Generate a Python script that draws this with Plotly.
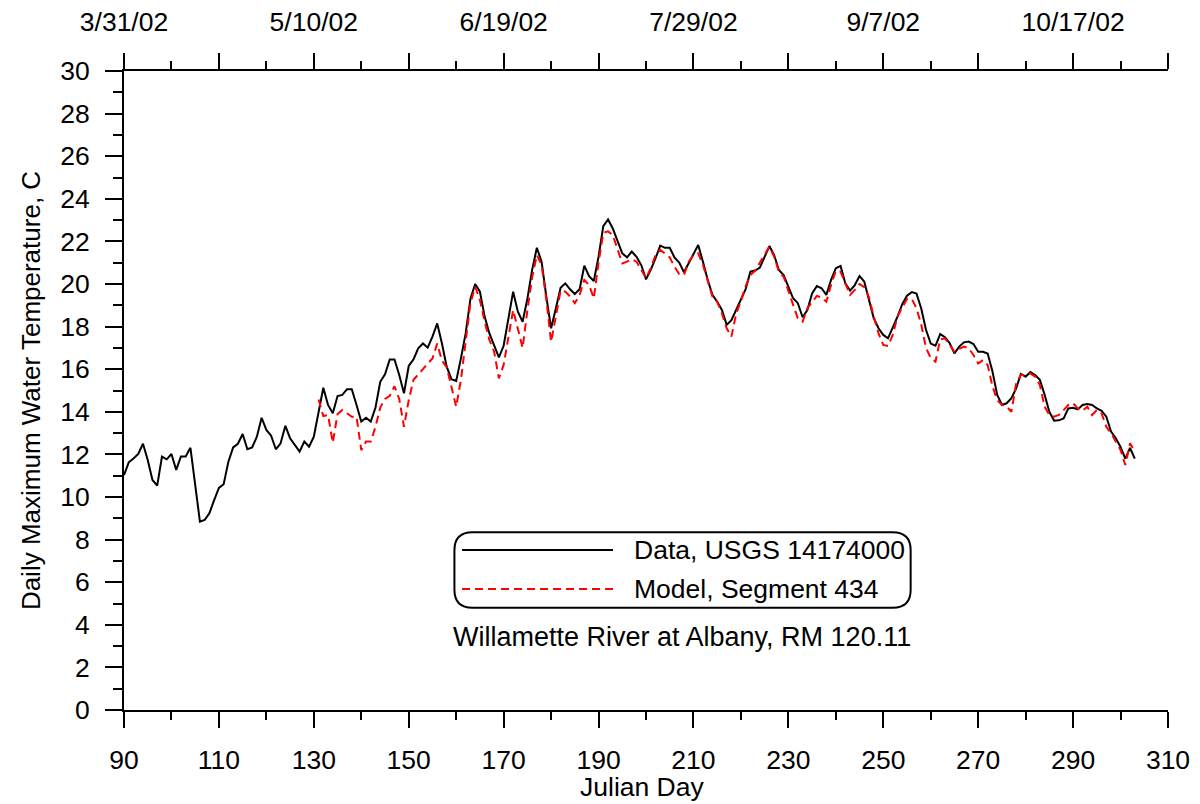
import plotly.graph_objects as go

# ---------------- data ----------------
data_start_day = 90
data_temp = [
    11.03, 11.63, 11.81, 12.02, 12.5, 11.74, 10.8, 10.53, 11.9, 11.77,
    12.02, 11.27, 11.9, 11.9, 12.31, 10.64, 8.84, 8.92, 9.24, 9.85,
    10.43, 10.6, 11.66, 12.33, 12.5, 12.96, 12.24, 12.33, 12.83, 13.72,
    13.15, 12.88, 12.24, 12.52, 13.34, 12.76, 12.47, 12.13, 12.6, 12.36,
    12.83, 14.0, 15.13, 14.32, 13.93, 14.74, 14.79, 15.06, 15.06, 14.32,
    13.54, 13.72, 13.54, 14.2, 15.41, 15.76, 16.46, 16.46, 15.73, 14.87,
    16.15, 16.46, 16.98, 17.21, 17.01, 17.53, 18.15, 17.21, 16.12, 15.53,
    15.45, 16.51, 17.68, 19.3, 20.0, 19.64, 18.47, 17.68, 17.14, 16.56,
    17.1, 18.47, 19.64, 18.7, 18.23, 19.3, 20.65, 21.7, 21.05, 19.4,
    17.92, 18.85, 19.82, 20.03, 19.75, 19.53, 19.75, 20.86, 20.37, 20.14,
    21.28, 22.72, 23.03, 22.61, 22.07, 21.44, 21.25, 21.52, 21.28, 20.89,
    20.22, 20.66, 21.2, 21.8, 21.7, 21.7, 21.25, 21.01, 20.55, 20.97,
    21.44, 21.83, 21.05, 20.2, 19.49, 19.17, 18.78, 18.08, 18.3, 18.78,
    19.25, 19.76, 20.58, 20.63, 20.77, 21.28, 21.78, 21.36, 20.66, 20.42,
    19.88, 19.33, 19.1, 18.44, 18.78, 19.56, 19.9, 19.8, 19.49, 20.19,
    20.74, 20.85, 20.03, 19.69, 19.95, 20.37, 20.11, 19.25, 18.39, 17.92,
    17.61, 17.45, 17.92, 18.47, 19.05, 19.45, 19.62, 19.55, 18.85, 17.85,
    17.2, 17.1, 17.65, 17.5, 17.22, 16.74, 17.06, 17.26, 17.3, 17.18,
    16.82, 16.82, 16.74, 15.9, 14.8, 14.32, 14.4, 14.64, 15.1, 15.78,
    15.65, 15.87, 15.73, 15.5, 14.8, 14.0, 13.58, 13.6, 13.69, 14.16,
    14.19, 14.11, 14.32, 14.36, 14.32, 14.16, 14.05, 13.77, 13.07, 12.76,
    12.35, 11.8, 12.3, 11.8,
]
data_days = list(range(data_start_day, data_start_day + len(data_temp)))

model_start_day = 131
model_temp = [
    14.58, 13.8, 13.85, 12.55, 13.9, 14.08, 13.93, 13.77, 13.77, 12.2,
    12.6, 12.6, 13.3, 14.2, 14.6, 14.75, 15.2, 14.6, 13.3, 14.55,
    15.5, 15.73, 16.0, 16.27, 16.5, 17.2, 16.4, 16.1, 15.18, 14.24,
    15.5, 17.2, 19.1, 19.87, 19.25, 18.23, 17.37, 16.82, 15.57, 16.2,
    17.6, 18.78, 17.9, 17.0, 18.75, 20.3, 21.36, 20.9, 19.25, 17.29,
    18.47, 19.69, 19.64, 19.41, 19.1, 19.48, 20.19, 19.95, 19.33, 21.0,
    22.4, 22.47, 22.3, 21.67, 20.97, 21.05, 21.16, 21.05, 20.66, 20.27,
    20.74, 21.36, 21.6, 21.44, 21.25, 20.81, 20.47, 20.42, 21.05, 21.36,
    21.44, 20.9, 20.2, 19.41, 19.17, 18.62, 17.92, 17.53, 18.6, 19.2,
    19.9, 20.42, 20.63, 21.0, 21.36, 21.75, 21.28, 20.58, 20.34, 19.64,
    19.02, 18.39, 18.23, 18.86, 19.17, 19.44, 19.37, 19.17, 19.95, 20.62,
    20.58, 20.03, 19.49, 19.72, 20.0, 19.85, 19.37, 18.47, 17.68, 17.14,
    17.09, 17.61, 18.47, 18.9, 19.3, 19.3, 18.86, 18.1, 17.0, 16.53,
    16.35, 17.4, 17.45, 17.14, 16.82, 16.95, 17.06, 16.98, 16.67, 16.27,
    16.43, 16.2, 15.2, 14.55, 14.32, 14.24, 14.0, 15.33, 15.73, 15.73,
    15.8, 15.65, 15.26, 14.24, 13.85, 13.77, 13.85, 14.08, 14.32, 14.4,
    14.16, 14.05, 14.24, 13.85, 14.08, 13.93, 13.3, 12.99, 12.6, 12.21,
    11.5, 12.52, 12.13,
]
model_days = list(range(model_start_day, model_start_day + len(model_temp)))

x_ticks = [90, 110, 130, 150, 170, 190, 210, 230, 250, 270, 290, 310]
top_tick_vals = [90, 110, 130, 150, 170, 190, 210, 230, 250, 270, 290, 310]
top_tick_text = ["3/31/02", "", "5/10/02", "", "6/19/02", "", "7/29/02", "",
                 "9/7/02", "", "10/17/02", ""]
y_ticks = list(range(0, 31, 2))

x_title = "Julian Day"
y_title = "Daily Maximum Water Temperature, C"
legend_labels = ["Data, USGS 14174000", "Model, Segment 434"]
subtitle = "Willamette River at Albany, RM 120.11"

FONT = "Arial, Liberation Sans, sans-serif"
FS = 26.5

fig = go.Figure()
fig.add_trace(go.Scatter(x=data_days, y=data_temp, mode="lines",
                         line=dict(color="black", width=2),
                         name=legend_labels[0], showlegend=False))
fig.add_trace(go.Scatter(x=model_days, y=model_temp, mode="lines",
                         line=dict(color="#ff0000", width=2, dash="8px,5px"),
                         name=legend_labels[1], showlegend=False))
# dummy trace to anchor the top date axis
fig.add_trace(go.Scatter(x=[90, 310], y=[None, None], xaxis="x2", yaxis="y",
                         mode="lines", showlegend=False, hoverinfo="skip"))

axis_common = dict(showgrid=False, zeroline=False, showline=True,
                   linecolor="black", linewidth=2, ticks="outside",
                   tickcolor="black", tickwidth=2, automargin=False,
                   tickfont=dict(family=FONT, size=FS, color="black"))

fig.update_layout(
    width=1184, height=796,
    margin=dict(l=116, r=24, t=63, b=94, autoexpand=False),
    paper_bgcolor="white", plot_bgcolor="white",
    font=dict(family=FONT, size=FS, color="black"),
    xaxis=dict(range=[90, 310], tickvals=x_ticks, ticklen=16,
               ticklabelstandoff=9,
               minor=dict(ticks="outside", ticklen=8, tickwidth=2,
                          tickcolor="black", tick0=90, dtick=10),
               **axis_common),
    xaxis2=dict(range=[90, 310], overlaying="x", side="top", anchor="y",
                tickvals=top_tick_vals, ticktext=top_tick_text, ticklen=16,
                ticklabelstandoff=11,
                minor=dict(ticks="outside", ticklen=8, tickwidth=2,
                           tickcolor="black", tick0=90, dtick=10),
                **axis_common),
    yaxis=dict(range=[0, 30], tickvals=y_ticks, ticklen=17,
               ticklabelstandoff=10,
               minor=dict(ticks="outside", ticklen=9, tickwidth=2,
                          tickcolor="black", tick0=0, dtick=1),
               title=dict(text=y_title, standoff=12,
                          font=dict(family=FONT, size=26)),
               **axis_common),
    showlegend=False,
)

# x-axis title
fig.add_annotation(x=0.4957, y=-0.1205, xref="paper", yref="paper",
                   text=x_title, showarrow=False, xanchor="center",
                   yanchor="middle", font=dict(family=FONT, size=FS))

# ---- hand-drawn legend box (paper coordinates) ----
x0, x1, y0, y1 = 0.3165, 0.7535, 0.160, 0.278
rx, ry = 18 / 1044, 18 / 639
path = (f"M {x0+rx},{y0} L {x1-rx},{y0} Q {x1},{y0} {x1},{y0+ry} "
        f"L {x1},{y1-ry} Q {x1},{y1} {x1-rx},{y1} L {x0+rx},{y1} "
        f"Q {x0},{y1} {x0},{y1-ry} L {x0},{y0+ry} Q {x0},{y0} {x0+rx},{y0} Z")
fig.add_shape(type="path", path=path, xref="paper", yref="paper",
              line=dict(color="black", width=2), fillcolor="white", layer="above")
fig.add_shape(type="line", xref="paper", yref="paper",
              x0=0.3238, x1=0.4684, y0=0.2505, y1=0.2505,
              line=dict(color="black", width=2), layer="above")
fig.add_shape(type="line", xref="paper", yref="paper",
              x0=0.3238, x1=0.4684, y0=0.1895, y1=0.1895,
              line=dict(color="#ff0000", width=2, dash="8px,5px"), layer="above")
fig.add_annotation(x=0.4866, y=0.2505, xref="paper", yref="paper",
                   text=legend_labels[0], showarrow=False, xanchor="left",
                   yanchor="middle", font=dict(family=FONT, size=FS))
fig.add_annotation(x=0.4866, y=0.1895, xref="paper", yref="paper",
                   text=legend_labels[1], showarrow=False, xanchor="left",
                   yanchor="middle", font=dict(family=FONT, size=FS))
fig.add_annotation(x=0.5345, y=0.114, xref="paper", yref="paper",
                   text=subtitle, showarrow=False, xanchor="center",
                   yanchor="middle", font=dict(family=FONT, size=27))

fig.write_html("out.html")
